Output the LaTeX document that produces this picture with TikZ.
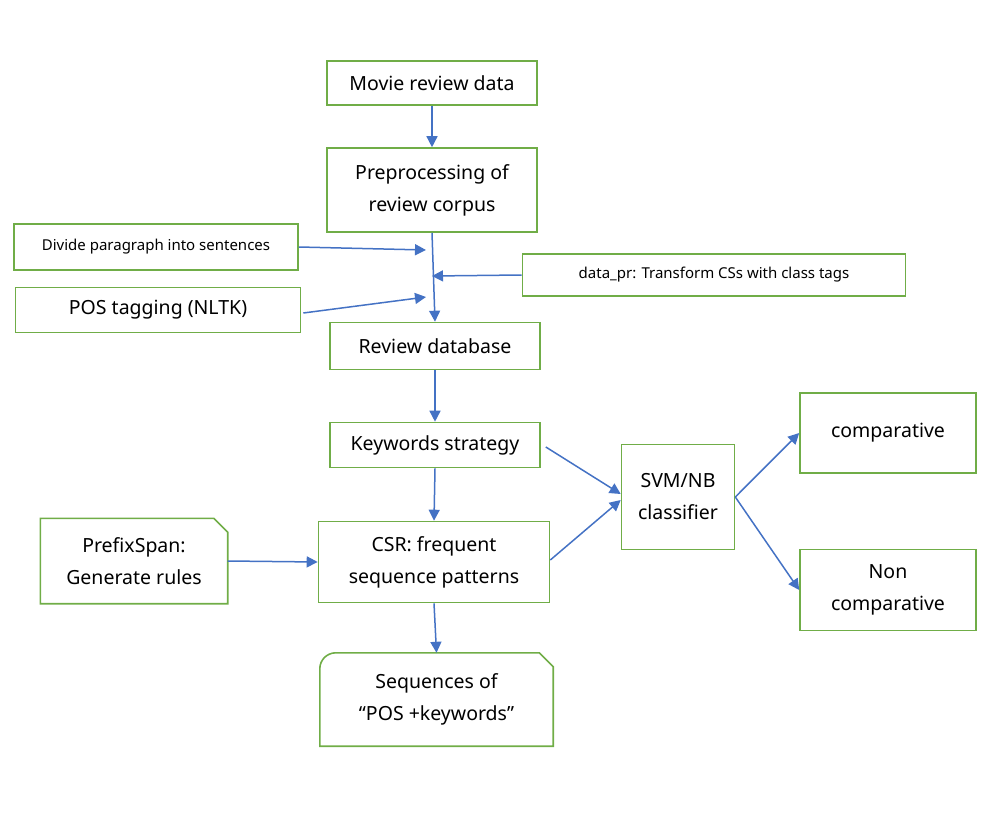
\documentclass[tikz,border=0pt]{standalone}
\usepackage{fontspec}
\setmainfont{Noto Sans}
\usetikzlibrary{arrows.meta}
\definecolor{boxgreen}{HTML}{70AD47}
\definecolor{arrblue}{HTML}{4472C4}
\begin{document}
\begin{tikzpicture}[x=1pt,y=-1pt,
  box/.style={draw=boxgreen, line width=1.6pt, inner sep=0pt, align=center, font=\fontsize{19.5}{32}\selectfont},
  plainbox/.style={draw=none, inner sep=0pt, align=center, font=\fontsize{19.5}{32}\selectfont},
  small/.style={font=\fontsize{15}{18}\selectfont},
  conn/.style={draw=arrblue, line width=1.5pt, -{Triangle[width=11pt,length=11pt]}},
  outline/.style={draw=boxgreen, line width=1.6pt}
  ]
\useasboundingbox (0,0) rectangle (984,813);
\node[box, minimum width=210, minimum height=44] (movie) at (432,83) {Movie review data};
\node[box, minimum width=210, minimum height=84] (pre) at (432,190) {Preprocessing of\\review corpus};
\node[box, small, minimum width=284, minimum height=46] (div) at (156,247) {Divide paragraph into sentences};
\node[box, minimum width=285, minimum height=45] (pos) at (158,310) {POS tagging (NLTK)};
\node[box, small, minimum width=383, minimum height=42] (dpr) at (714,275) {data\_pr: Transform CSs with class tags};
\node[box, minimum width=210, minimum height=47] (rdb) at (435,346) {Review database};
\node[box, minimum width=210, minimum height=45] (kw) at (435,445) {Keywords strategy};
\node[box, minimum width=113, minimum height=105] (svm) at (678,497) {SVM/NB\\classifier};
\node[box, minimum width=176, minimum height=80] (comp) at (888,433) {comparative};
\node[box, minimum width=176, minimum height=81] (non) at (888,590) {Non\\comparative};
\node[box, minimum width=231, minimum height=81] (csr) at (434,562) {CSR: frequent\\sequence patterns};
\node[plainbox, minimum width=187, minimum height=85] (ps) at (134,561) {PrefixSpan:\\Generate rules};
\draw[outline] (ps.south west) -- (ps.north west) -- ([xshift=-14]ps.north east) -- ([yshift=-14]ps.north east) -- (ps.south east) -- cycle;
\node[plainbox, minimum width=233, minimum height=93] (seq) at (436.5,699.5) {Sequences of\\“POS +keywords”};
\draw[outline] (seq.south west) -- ([yshift=-16]seq.north west) arc[start angle=180, end angle=270, radius=16] -- ([xshift=-14]seq.north east) -- ([yshift=-14]seq.north east) -- (seq.south east) -- cycle;

\coordinate (j1) at (426,250);
\coordinate (j2) at (432,276);
\coordinate (j3) at (426,297);
\draw[conn] (movie.south) -- (pre.north);
\draw[conn] (pre.south) -- (rdb.north);
\draw[conn] (div.east) -- (j1);
\draw[conn] (dpr.west) -- (j2);
\draw[conn] ([xshift=2,yshift=-3]pos.east) -- (j3);
\draw[conn] (rdb.south) -- (kw.north);
\draw[conn] ([xshift=5,yshift=-2]kw.east) -- ([yshift=3]svm.west);
\draw[conn] ([yshift=2]csr.east) -- ([yshift=-3]svm.west);
\draw[conn] (kw.south) -- (csr.north);
\draw[conn] (ps.east) -- (csr.west);
\draw[conn] (csr.south) -- (seq.north);
\draw[conn] (svm.east) -- (comp.west);
\draw[conn] (svm.east) -- (non.west);
\end{tikzpicture}
\end{document}
